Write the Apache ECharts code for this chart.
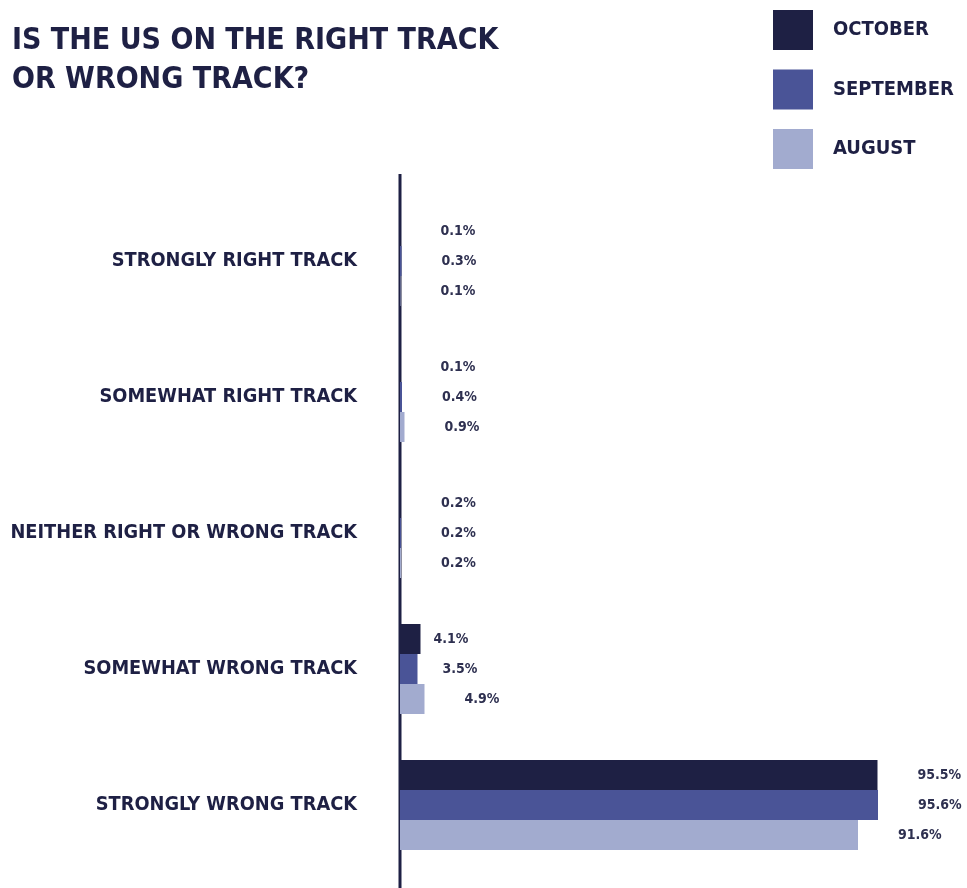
<!DOCTYPE html>
<html>
<head>
<meta charset="utf-8">
<script src="https://cdn.jsdelivr.net/npm/echarts@6/dist/echarts.min.js"></script>
<style>
  html, body { margin: 0; padding: 0; background: #fff; }
  #chart { width: 967px; height: 888px; }
</style>
</head>
<body>
<div id="chart"></div>
<script>
const categories = [
  "STRONGLY RIGHT TRACK",
  "SOMEWHAT RIGHT TRACK",
  "NEITHER RIGHT OR WRONG TRACK",
  "SOMEWHAT WRONG TRACK",
  "STRONGLY WRONG TRACK",
];
const october = [0.1, 0.1, 0.2, 4.1, 95.5];
const september = [0.3, 0.4, 0.2, 3.5, 95.6];
const august = [0.1, 0.9, 0.2, 4.9, 91.6];

const font = "DejaVu Sans Condensed";
const navy = "#1e2044";

let chart = echarts.init(document.getElementById("chart"));

// label gap from bar end; the original nudges a couple of labels closer
let makeSeries = (name, data, color, nudge) => ({
  name: name,
  type: "bar",
  data: data.map((v, i) =>
    nudge && nudge[i] != null ? { value: v, label: { distance: nudge[i] } } : v
  ),
  barWidth: 30,
  barGap: "0%",
  itemStyle: { color: color },
  label: {
    show: true,
    position: "right",
    distance: 40,
    formatter: (p) => p.value.toFixed(1) + "%",
    color: "#2e3050",
    fontFamily: font,
    fontSize: 14,
    fontWeight: "bold",
  },
});

chart.setOption({
  animation: false,
  title: {
    text: "IS THE US ON THE RIGHT TRACK\nOR WRONG TRACK?",
    left: 7,
    top: 17,
    textStyle: {
      color: navy,
      fontFamily: font,
      fontSize: 30,
      fontWeight: "bold",
      lineHeight: 39,
    },
  },
  legend: {
    orient: "vertical",
    left: 768,
    top: 5,
    itemWidth: 40,
    itemHeight: 40,
    itemGap: 19.5,
    icon: "rect",
    data: ["OCTOBER", "SEPTEMBER", "AUGUST"],
    textStyle: {
      color: navy,
      fontFamily: font,
      fontSize: 20,
      fontWeight: "bold",
      padding: [0, 0, 0, 15],
    },
  },
  grid: {
    left: 400,
    top: 193,
    width: 500,
    height: 680,
  },
  xAxis: {
    type: "value",
    min: 0,
    max: 100,
    show: false,
  },
  yAxis: {
    type: "category",
    inverse: true,
    data: categories,
    axisLine: { show: false },
    axisTick: { show: false },
    axisLabel: {
      margin: 43,
      color: navy,
      fontFamily: font,
      fontSize: 19.8,
      fontWeight: "bold",
    },
  },
  graphic: [
    {
      type: "line",
      shape: { x1: 400, y1: 174, x2: 400, y2: 888 },
      style: { stroke: navy, lineWidth: 3 },
    },
  ],
  series: [
    makeSeries("OCTOBER", october, "#1e2044", { 3: 13 }),
    makeSeries("SEPTEMBER", september, "#4a5497", { 3: 25 }),
    makeSeries("AUGUST", august, "#a2abcf"),
  ],
});

window.onresize = function () {
  chart.resize();
};
</script>
</body>
</html>
